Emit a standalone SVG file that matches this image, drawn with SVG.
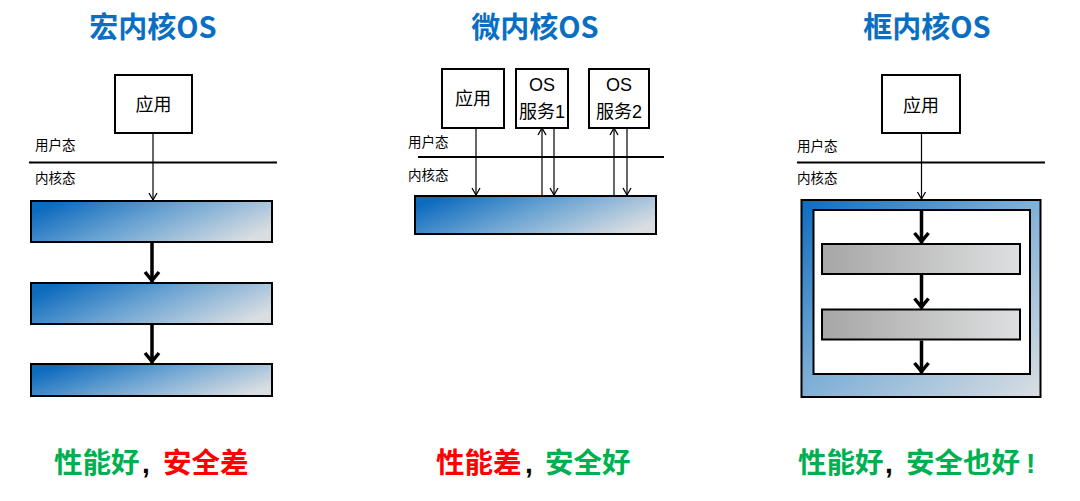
<svg xmlns="http://www.w3.org/2000/svg" width="1080" height="501" viewBox="0 0 1080 501">
<defs>
<linearGradient id="blueBar" x1="0" y1="0.3" x2="1" y2="0.7">
<stop offset="0" stop-color="#0d6bbe"/>
<stop offset="0.45" stop-color="#6aa3d2"/>
<stop offset="1" stop-color="#dadee2"/>
</linearGradient>
<linearGradient id="blueFrame" x1="0" y1="0" x2="1" y2="1">
<stop offset="0" stop-color="#0d6bbe"/>
<stop offset="0.45" stop-color="#78acd6"/>
<stop offset="1" stop-color="#dadee2"/>
</linearGradient>
<linearGradient id="grayBar" x1="0" y1="0" x2="1" y2="0">
<stop offset="0" stop-color="#a6a6a6"/>
<stop offset="1" stop-color="#dedfe0"/>
</linearGradient>
<marker id="thin" viewBox="-10 -6 12 12" refX="0" refY="0" markerWidth="12" markerHeight="12" markerUnits="userSpaceOnUse" orient="auto">
<path d="M-7,-4 L0,0 L-7,4" fill="none" stroke="#000" stroke-width="1.3"/>
</marker>
<marker id="thick" viewBox="-14 -9 16 18" refX="0" refY="0" markerWidth="16" markerHeight="18" markerUnits="userSpaceOnUse" orient="auto">
<path d="M-10,-7 L-1.5,0 L-10,7" fill="none" stroke="#000" stroke-width="3.5"/>
</marker>
</defs>
<style>
.title{font-family:"Noto Sans CJK SC","Noto Sans",sans-serif;font-weight:bold;font-size:29px;fill:#0a6fc2;text-anchor:middle}
.box{fill:#fff;stroke:#000;stroke-width:2}
.bar{stroke:#000;stroke-width:2}
.lbl{font-family:"Noto Sans CJK SC",sans-serif;font-size:13.5px;fill:#000}
.bt{font-family:"Liberation Sans","Noto Sans CJK SC",sans-serif;font-size:18px;fill:#000;text-anchor:middle}
.sep{stroke:#000;stroke-width:2}
.thin{stroke:#000;stroke-width:1.2;fill:none;marker-end:url(#thin)}
.thick{stroke:#000;stroke-width:3.5;fill:none;marker-end:url(#thick)}
.res{font-family:"Noto Sans CJK SC",sans-serif;font-weight:bold;font-size:28.5px}
.cm{font-family:"Liberation Sans",sans-serif;font-weight:bold;font-size:28px;fill:#000}
.g{fill:#00b050}.r{fill:#ff0000}
</style>
<rect width="1080" height="501" fill="#fff"/>

<g id="macro">
<text class="title" x="153" y="38">宏内核OS</text>
<g id="macro-app"><rect class="box" x="115" y="75" width="77" height="58"/><text class="bt" x="153.5" y="111" font-size="19">应用</text></g>
<text class="lbl" x="35" y="150">用户态</text>
<line class="sep" x1="29" y1="162.5" x2="277" y2="162.5"/>
<text class="lbl" x="35" y="183">内核态</text>
<rect id="macro-bar1" class="bar" x="31" y="201" width="241" height="41" fill="url(#blueBar)"/>
<rect id="macro-bar2" class="bar" x="31" y="283" width="241" height="41" fill="url(#blueBar)"/>
<rect id="macro-bar3" class="bar" x="31" y="364" width="241" height="32" fill="url(#blueBar)"/>
<text class="res" x="54" y="473"><tspan class="g">性能好</tspan><tspan class="cm" x="142">,</tspan><tspan class="r" x="163">安全差</tspan></text>
</g>

<g id="micro">
<text class="title" x="535" y="38">微内核OS</text>
<g id="micro-app"><rect class="box" x="442" y="69" width="62" height="59"/><text class="bt" x="473" y="105">应用</text></g>
<g id="micro-os1"><rect class="box" x="516" y="69" width="52" height="59"/><text class="bt" x="542" y="91">OS</text><text class="bt" x="542" y="118">服务1</text></g>
<g id="micro-os2"><rect class="box" x="589" y="69" width="60" height="59"/><text class="bt" x="619" y="91">OS</text><text class="bt" x="619" y="118">服务2</text></g>
<text class="lbl" x="408" y="147">用户态</text>
<line class="sep" x1="418" y1="157" x2="664" y2="157"/>
<text class="lbl" x="408" y="180">内核态</text>
<rect id="micro-bar" class="bar" x="415" y="196" width="241" height="38" fill="url(#blueBar)"/>
<text class="res" x="436" y="473"><tspan class="r">性能差</tspan><tspan class="cm" x="525">,</tspan><tspan class="g" x="545">安全好</tspan></text>
</g>

<g id="frame">
<text class="title" x="927" y="38">框内核OS</text>
<g id="frame-app"><rect class="box" x="882" y="75" width="78" height="58"/><text class="bt" x="921" y="112" font-size="19">应用</text></g>
<text class="lbl" x="797" y="151">用户态</text>
<line class="sep" x1="797" y1="162.5" x2="1045" y2="162.5"/>
<text class="lbl" x="797" y="183">内核态</text>
<rect id="frame-outer" class="bar" x="801.5" y="200" width="239" height="197" fill="url(#blueFrame)"/>
<rect id="frame-inner" class="box" x="813.5" y="210" width="216.5" height="164"/>
<rect id="frame-bar1" class="bar" x="822" y="244" width="198" height="30" fill="url(#grayBar)"/>
<rect id="frame-bar2" class="bar" x="822" y="309.5" width="198" height="30" fill="url(#grayBar)"/>
<text class="res" x="798" y="473"><tspan class="g">性能好</tspan><tspan class="cm" x="885">,</tspan><tspan class="g" x="906">安全也好</tspan><tspan class="cm g" style="fill:#00b050" x="1026">!</tspan></text>
</g>

<g id="connectors">
<line class="thin" x1="153" y1="133" x2="153" y2="200"/>
<line class="thick" x1="152" y1="242" x2="152" y2="282"/>
<line class="thick" x1="152" y1="324" x2="152" y2="363"/>
<line class="thin" x1="476" y1="128" x2="476" y2="195"/>
<line class="thin" x1="542" y1="195" x2="542" y2="128"/>
<line class="thin" x1="554" y1="128" x2="554" y2="195"/>
<line class="thin" x1="614" y1="195" x2="614" y2="128"/>
<line class="thin" x1="627" y1="128" x2="627" y2="195"/>
<line class="thin" x1="921.5" y1="133" x2="921.5" y2="199"/>
<line class="thick" x1="921.5" y1="211" x2="921.5" y2="243"/>
<line class="thick" x1="921.5" y1="275" x2="921.5" y2="308.5"/>
<line class="thick" x1="921.5" y1="340.5" x2="921.5" y2="373"/>
</g>
</svg>
